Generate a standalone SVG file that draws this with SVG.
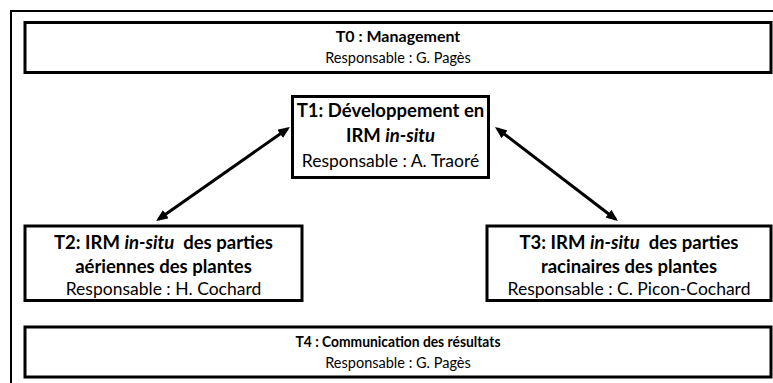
<svg xmlns="http://www.w3.org/2000/svg" width="773" height="383" viewBox="0 0 773 383">
<defs>
<style>
.box{fill:#fff;stroke:#000;stroke-width:3}
.frame{fill:none;stroke:#000;stroke-width:2}
.t{font-family:Lato,"Liberation Sans",sans-serif;text-anchor:middle;fill:#000}
.b{font-weight:bold;font-size:18.5px}
.r{font-size:17.5px}
.bs{font-weight:bold;font-size:16px}
.rs{font-size:14.5px}
.conn{stroke:#000;stroke-width:3;fill:none;marker-start:url(#ah);marker-end:url(#ah)}
</style>
<marker id="ah" viewBox="0 0 12 10" refX="9" refY="5" markerWidth="12" markerHeight="10" markerUnits="userSpaceOnUse" orient="auto-start-reverse">
<path d="M0,0 L12,5 L0,10 z" fill="#000"/>
</marker>
</defs>
<rect width="773" height="383" fill="#fff"/>
<rect class="frame" x="11" y="11" width="775" height="385"/>
<g id="T0">
<rect class="box" x="25" y="22.5" width="746" height="50"/>
<text class="t bs" x="398" y="42">T0 : Management</text>
<text class="t rs" x="398" y="63">Responsable : G. Pagès</text>
</g>
<g id="T1">
<rect class="box" x="292.5" y="96.5" width="196" height="81"/>
<text class="t b" x="390.5" y="117">T1: Développement en</text>
<text class="t b" x="390.5" y="142">IRM <tspan font-style="italic">in-situ</tspan></text>
<text class="t r" x="390.5" y="167">Responsable : A. Traoré</text>
</g>
<g id="T2">
<rect class="box" x="25" y="226" width="277" height="74.5"/>
<text class="t b" x="163.5" y="249">T2: IRM <tspan font-style="italic">in-situ</tspan>&#160; des parties</text>
<text class="t b" x="163.5" y="273">aériennes des plantes</text>
<text class="t r" x="163.5" y="295">Responsable : H. Cochard</text>
</g>
<g id="T3">
<rect class="box" x="487" y="226" width="284" height="74.5"/>
<text class="t b" x="629" y="249">T3: IRM <tspan font-style="italic">in-situ</tspan>&#160; des parties</text>
<text class="t b" x="629" y="273">racinaires des plantes</text>
<text class="t r" x="629" y="295">Responsable : C. Picon-Cochard</text>
</g>
<g id="T4">
<rect class="box" x="25" y="327" width="746" height="50"/>
<text class="t bs" x="398" y="347" textLength="205" lengthAdjust="spacingAndGlyphs">T4 : Communication des résultats</text>
<text class="t rs" x="398" y="368">Responsable : G. Pagès</text>
</g>
<g id="connectors">
<line class="conn" x1="287.5" y1="128.7" x2="158.5" y2="219.3"/>
<line class="conn" x1="497.4" y1="128.8" x2="615.6" y2="219.2"/>
</g>
</svg>
